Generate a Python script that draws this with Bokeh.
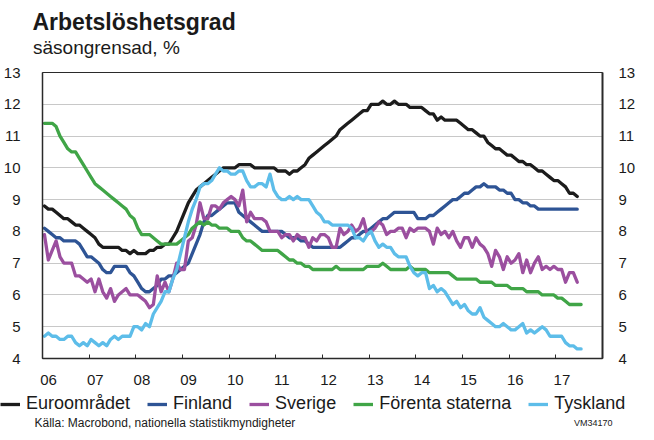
from bokeh.plotting import figure
from bokeh.layouts import column
from bokeh.models import (Range1d, LinearAxis, FixedTicker, Label, Legend, LegendItem)
from bokeh.embed import file_html
from bokeh.resources import INLINE

# ---------------- data (monthly, seasonally adjusted, %) ----------------
START_YEAR = 2006
year_ticks = list(range(2006, 2019))
year_labels = ["06", "07", "08", "09", "10", "11", "12", "13", "14", "15", "16", "17"]
y_ticks = [4, 5, 6, 7, 8, 9, 10, 11, 12, 13]

euroomradet = [
    8.8, 8.7, 8.7, 8.6, 8.5, 8.4, 8.4, 8.3, 8.2, 8.2, 8.1, 8.0,
    7.9, 7.8, 7.6, 7.5, 7.5, 7.5, 7.5, 7.5, 7.4, 7.4, 7.3, 7.4,
    7.3, 7.3, 7.3, 7.4, 7.4, 7.5, 7.5, 7.6, 7.6, 7.8, 8.0, 8.3,
    8.6, 8.9, 9.1, 9.3, 9.4, 9.5, 9.6, 9.7, 9.8, 9.9, 10.0, 10.0,
    10.0, 10.0, 10.1, 10.1, 10.1, 10.1, 10.0, 10.0, 10.0, 10.0, 10.0, 10.0,
    9.9, 9.9, 9.9, 9.8, 9.9, 9.9, 10.0, 10.1, 10.3, 10.4, 10.5, 10.6,
    10.7, 10.8, 10.9, 11.0, 11.2, 11.3, 11.4, 11.5, 11.6, 11.7, 11.8, 11.8,
    12.0, 12.0, 12.0, 12.1, 12.0, 12.0, 12.1, 12.0, 12.0, 12.0, 11.9, 11.9,
    11.9, 11.9, 11.8, 11.7, 11.7, 11.5, 11.6, 11.5, 11.5, 11.5, 11.5, 11.4,
    11.3, 11.2, 11.2, 11.1, 11.0, 11.0, 10.8, 10.7, 10.6, 10.6, 10.5, 10.4,
    10.4, 10.3, 10.2, 10.2, 10.1, 10.1, 10.0, 9.9, 9.9, 9.8, 9.7, 9.6,
    9.6, 9.5, 9.4, 9.2, 9.2, 9.1,
]

finland = [
    8.1, 8.0, 7.9, 7.8, 7.8, 7.7, 7.7, 7.7, 7.7, 7.6, 7.4, 7.2,
    7.2, 7.1, 7.0, 6.8, 6.7, 6.7, 6.9, 6.9, 6.9, 6.9, 6.7, 6.6,
    6.4, 6.2, 6.1, 6.1, 6.2, 6.3, 6.5, 6.5, 6.6, 6.6, 6.7, 6.8,
    6.9, 7.0, 7.3, 7.6, 7.9, 8.3, 8.5, 8.5, 8.6, 8.7, 8.8, 8.9,
    8.9, 8.9, 8.6, 8.5, 8.4, 8.3, 8.2, 8.1, 8.0, 8.0, 8.0, 8.0,
    8.0, 8.0, 7.9, 7.8, 7.8, 7.8, 7.7, 7.7, 7.6, 7.5, 7.5, 7.5,
    7.5, 7.5, 7.5, 7.5, 7.5, 7.6, 7.7, 7.8, 7.8, 7.9, 8.0, 8.0,
    8.1, 8.2, 8.3, 8.4, 8.4, 8.5, 8.6, 8.6, 8.6, 8.6, 8.6, 8.6,
    8.4, 8.4, 8.4, 8.5, 8.5, 8.6, 8.7, 8.8, 8.9, 9.0, 9.0, 9.1,
    9.2, 9.2, 9.3, 9.4, 9.4, 9.5, 9.4, 9.4, 9.4, 9.3, 9.3, 9.2,
    9.2, 9.0, 9.0, 8.9, 8.9, 8.8, 8.8, 8.7, 8.7, 8.7, 8.7, 8.7,
    8.7, 8.7, 8.7, 8.7, 8.7, 8.7,
]

sverige = [
    7.9, 7.1, 7.4, 7.7, 7.2, 7.0, 7.0, 7.0, 6.6, 6.6, 6.5, 6.4,
    6.5, 6.1, 6.5, 6.1, 5.9, 6.2, 5.8, 6.0, 6.1, 6.2, 6.0, 6.0,
    6.0, 5.9, 5.8, 5.6, 5.7, 6.6, 6.1, 6.4, 6.1, 6.5, 7.0, 6.8,
    6.8, 7.7, 7.8, 8.2, 8.9, 8.4, 8.4, 8.8, 8.8, 8.7, 8.9, 9.0,
    9.1, 9.0, 8.8, 9.3, 8.3, 8.6, 8.4, 8.4, 8.4, 8.3, 8.0, 8.0,
    8.0, 7.8, 7.9, 7.9, 7.7, 7.9, 7.8, 7.8, 7.5, 7.8, 7.7, 7.9,
    7.9, 7.8, 7.5, 7.5, 8.1, 7.9, 8.0, 8.2, 8.0, 8.1, 8.4, 7.9,
    8.0, 8.1, 8.3, 8.2, 7.9, 8.0, 8.0, 8.1, 8.1, 7.8, 8.1, 8.0,
    8.1, 8.1, 8.1, 8.0, 7.6, 8.1, 7.9, 8.0, 7.8, 8.0, 7.7, 7.5,
    7.8, 7.8, 7.5, 7.8, 7.6, 7.5, 7.3, 6.9, 7.4, 7.2, 6.8, 7.2,
    7.0, 7.1, 7.3, 6.7, 7.1, 6.7, 7.0, 7.2, 6.8, 6.9, 6.8, 6.9,
    6.8, 6.8, 6.4, 6.7, 6.7, 6.4,
]

forenta_staterna = [
    11.4, 11.4, 11.4, 11.3, 11.0, 10.8, 10.6, 10.5, 10.5, 10.3, 10.1, 9.9,
    9.7, 9.5, 9.4, 9.3, 9.2, 9.1, 9.0, 8.9, 8.8, 8.7, 8.5, 8.4,
    8.1, 7.9, 7.9, 7.9, 7.8, 7.7, 7.6, 7.6, 7.6, 7.6, 7.6, 7.7,
    7.8, 7.9, 8.1, 8.2, 8.3, 8.2, 8.3, 8.2, 8.2, 8.1, 8.1, 8.1,
    8.0, 8.0, 8.0, 7.8, 7.7, 7.7, 7.6, 7.5, 7.4, 7.4, 7.4, 7.4,
    7.4, 7.3, 7.2, 7.1, 7.1, 7.0, 7.0, 6.9, 6.9, 6.8, 6.8, 6.8,
    6.8, 6.8, 6.8, 6.9, 6.8, 6.8, 6.8, 6.8, 6.8, 6.8, 6.8, 6.9,
    6.9, 6.9, 6.9, 7.0, 6.9, 6.8, 6.8, 6.8, 6.8, 6.8, 6.9, 6.8,
    6.8, 6.8, 6.8, 6.7, 6.7, 6.7, 6.7, 6.7, 6.7, 6.6, 6.5, 6.5,
    6.5, 6.5, 6.5, 6.5, 6.4, 6.4, 6.4, 6.4, 6.3, 6.3, 6.3, 6.3,
    6.2, 6.2, 6.2, 6.2, 6.1, 6.1, 6.1, 6.1, 6.0, 6.0, 6.0, 6.0,
    5.9, 5.9, 5.8, 5.7, 5.7, 5.7, 5.7,
]

tyskland = [
    4.7, 4.8, 4.7, 4.7, 4.6, 4.6, 4.7, 4.7, 4.5, 4.4, 4.5, 4.4,
    4.6, 4.5, 4.4, 4.5, 4.4, 4.6, 4.7, 4.6, 4.7, 4.7, 4.7, 5.0,
    5.0, 4.9, 5.1, 5.0, 5.4, 5.6, 5.8, 6.1, 6.1, 6.5, 6.8, 7.3,
    7.8, 8.3, 8.7, 9.0, 9.4, 9.5, 9.5, 9.6, 9.8, 10.0, 9.9, 9.9,
    9.8, 9.8, 9.9, 9.9, 9.6, 9.4, 9.4, 9.5, 9.5, 9.4, 9.8, 9.3,
    9.1, 9.0, 9.0, 9.1, 9.0, 9.1, 9.0, 9.0, 9.0, 8.8, 8.6, 8.5,
    8.3, 8.3, 8.2, 8.2, 8.2, 8.2, 8.2, 8.1, 7.8, 7.8, 7.7, 7.9,
    8.0, 7.7, 7.5, 7.6, 7.5, 7.5, 7.3, 7.2, 7.2, 7.2, 6.9, 6.7,
    6.6, 6.7, 6.7, 6.2, 6.3, 6.1, 6.2, 6.1, 5.9, 5.7, 5.8, 5.6,
    5.7, 5.5, 5.4, 5.4, 5.6, 5.3, 5.2, 5.1, 5.0, 5.0, 5.1, 5.0,
    4.9, 4.9, 5.0, 5.1, 4.8, 4.9, 4.8, 4.9, 5.0, 4.9, 4.7, 4.7,
    4.7, 4.7, 4.5, 4.4, 4.4, 4.3, 4.3,
]

series = [
    ("Euroområdet", euroomradet, "#1c1c1c"),
    ("Finland", finland, "#2e5495"),
    ("Sverige", sverige, "#9b4f9f"),
    ("Förenta staterna", forenta_staterna, "#40a547"),
    ("Tyskland", tyskland, "#5dbde9"),
]


def month_x(values):
    # mid-month position, in decimal years
    return [START_YEAR + (i + 0.5) / 12 for i in range(len(values))]


FONT = "Liberation Sans"
TXT = "#1a1a1a"
W = 638
HEAD_H, MAIN_H, FOOT_H = 64, 326, 42
LW = 3.3


def blank(height):
    f = figure(width=W, height=height, output_backend="svg", toolbar_location=None,
               x_range=Range1d(0, W), y_range=Range1d(height, 0),
               min_border=0, x_axis_location=None, y_axis_location=None)
    f.frame_align = False
    f.outline_line_color = None
    f.xgrid.visible = False
    f.ygrid.visible = False
    f.background_fill_color = "white"
    f.border_fill_color = "white"
    return f


# ---------------- header ----------------
head = blank(HEAD_H)
head.add_layout(Label(x=32, y=21.5, text="Arbetslöshetsgrad",
                      text_font=FONT, text_font_style="bold", text_font_size="23px",
                      text_color=TXT, text_baseline="alphabetic", text_align="left"))
head.add_layout(Label(x=32.5, y=46.5, text="säsongrensad, %",
                      text_font=FONT, text_font_size="19px",
                      text_color=TXT, text_baseline="alphabetic", text_align="left"))

# ---------------- main chart ----------------
p = figure(width=W, height=MAIN_H, output_backend="svg", toolbar_location=None,
           x_range=Range1d(2006, 2018), y_range=Range1d(4, 13),
           min_border_left=35, min_border_right=34,
           min_border_top=8, min_border_bottom=32,
           x_axis_location=None, y_axis_location=None)
p.frame_align = False
p.background_fill_color = "white"
p.border_fill_color = "white"
p.outline_line_color = "#2a2a2a"
p.outline_line_width = 1
p.xgrid.visible = False
p.ygrid.grid_line_color = "#c8c8c8"
p.ygrid.grid_line_width = 1
p.ygrid.ticker = FixedTicker(ticks=y_ticks)

label_pos = [y + 0.13 for y in year_ticks[:-1]]
xaxis = LinearAxis(ticker=FixedTicker(ticks=label_pos, minor_ticks=year_ticks))
xaxis.major_label_overrides = {pos: lab for pos, lab in zip(label_pos, year_labels)}
xaxis.major_tick_line_color = None
xaxis.minor_tick_in = 4
xaxis.minor_tick_out = 0
xaxis.minor_tick_line_color = "#2a2a2a"
xaxis.minor_tick_line_width = 1
xaxis.axis_line_color = "#2a2a2a"
xaxis.axis_line_width = 1.5
xaxis.major_label_standoff = 10
xaxis.major_label_text_font = FONT
xaxis.major_label_text_font_size = "15px"
xaxis.major_label_text_color = TXT
p.add_layout(xaxis, "below")

for side, standoff, lw in (("left", 16, 1.5), ("right", 10, 2)):
    ax = LinearAxis(ticker=FixedTicker(ticks=y_ticks))
    ax.major_tick_line_color = None
    ax.minor_tick_line_color = None
    ax.axis_line_color = "#2a2a2a"
    ax.axis_line_width = lw
    ax.major_label_standoff = standoff
    ax.major_label_text_font = FONT
    ax.major_label_text_font_size = "15px"
    ax.major_label_text_color = TXT
    p.add_layout(ax, side)

for name, vals, col in series:
    p.line(month_x(vals), vals, line_color=col, line_width=LW,
           line_join="round", line_cap="round")

# ---------------- footer: legend + source ----------------
foot = blank(FOOT_H)
items = []
for name, vals, col in series:
    # legend swatch holder, kept outside the visible range
    r = foot.line([-100, -90], [-100, -100], line_color=col, line_width=LW)
    items.append(LegendItem(label=name, renderers=[r]))
legend = Legend(items=items, orientation="horizontal", location=(0, 18),
                label_text_font=FONT, label_text_font_size="18px",
                label_text_color=TXT, glyph_width=20, glyph_height=20,
                label_height=20, label_standoff=6, spacing=17, padding=0,
                margin=0, border_line_color=None, background_fill_alpha=0)
foot.add_layout(legend, "center")
foot.add_layout(Label(x=34, y=32, text="Källa: Macrobond, nationella statistikmyndigheter",
                      text_font=FONT, text_font_size="12px",
                      text_color=TXT, text_baseline="alphabetic", text_align="left"))
foot.add_layout(Label(x=612, y=32, text="VM34170",
                      text_font=FONT, text_font_size="9px",
                      text_color=TXT, text_baseline="alphabetic", text_align="right"))

layout = column(head, p, foot, spacing=0)
open("out.html", "w").write(file_html(layout, INLINE))
